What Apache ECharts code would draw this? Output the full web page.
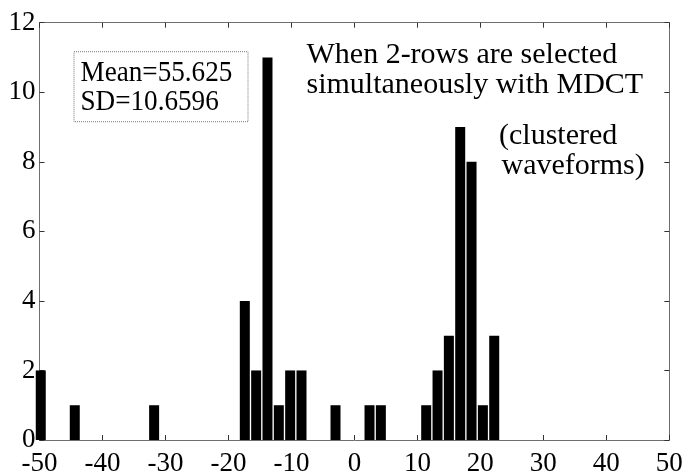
<!DOCTYPE html>
<html>
<head>
<meta charset="utf-8">
<script src="https://cdn.jsdelivr.net/npm/echarts@6/dist/echarts.min.js"></script>
<style>
html,body{margin:0;padding:0;background:#fff;}
#chart{width:685px;height:472px;}
</style>
</head>
<body>
<div id="chart"></div>
<script>
// Histogram bin centres and counts
var binCenters = [-49.8, -44.4, -31.8, -17.4, -15.6, -13.8, -12.0, -10.2, -8.4, -3.0, 2.4, 4.2, 11.4, 13.2, 15.0, 16.8, 18.6, 20.4, 22.2];
var counts     = [2, 1, 1, 4, 2, 11, 1, 2, 2, 1, 1, 1, 1, 2, 3, 9, 8, 1, 3];
var xTicks = [-50, -40, -30, -20, -10, 0, 10, 20, 30, 40, 50];
var yTicks = [0, 2, 4, 6, 8, 10, 12];
var statLines = ['Mean=55.625', 'SD=10.6596'];
var noteLines = ['When 2-rows are selected', 'simultaneously with MDCT', '(clustered', 'waveforms)'];

var FONT = 'Liberation Serif';
var frameColor = '#6e6e6e';
var data = binCenters.map(function (c, i) { return [c, counts[i]]; });

var chart = echarts.init(document.getElementById('chart'), null, {renderer: 'canvas'});
var axisCommon = {
  axisLine: {show: true, onZero: false, lineStyle: {color: frameColor, width: 1}},
  axisTick: {show: true, inside: true, length: 5, lineStyle: {color: '#333'}},
  splitLine: {show: false}
};
function txt(x, y, s, size, sx) {
  return {type: 'text', x: x, y: y, z: 11, scaleX: sx || 1,
    style: {text: s, font: size + 'px "' + FONT + '"', fill: '#000', textVerticalAlign: 'middle'}};
}
chart.setOption({
  animation: false,
  backgroundColor: '#fff',
  grid: {left: 39.5, right: 15.7, top: 22.7, bottom: 32, containLabel: false, outerBoundsMode: 'none'},
  xAxis: [
    Object.assign({
      type: 'value', position: 'bottom', min: xTicks[0], max: xTicks[xTicks.length - 1], interval: 10,
      axisLabel: {show: true, margin: 10, color: '#000', fontFamily: FONT, fontSize: 27}
    }, axisCommon),
    Object.assign({
      type: 'value', position: 'top', min: xTicks[0], max: xTicks[xTicks.length - 1], interval: 10,
      axisLabel: {show: false}
    }, axisCommon)
  ],
  yAxis: [
    Object.assign({
      type: 'value', position: 'left', min: yTicks[0], max: yTicks[yTicks.length - 1], interval: 2,
      axisLabel: {show: true, margin: 4, color: '#000', fontFamily: FONT, fontSize: 27}
    }, axisCommon),
    Object.assign({
      type: 'value', position: 'right', min: yTicks[0], max: yTicks[yTicks.length - 1], interval: 2,
      axisLabel: {show: false}
    }, axisCommon)
  ],
  series: [{
    type: 'bar',
    xAxisIndex: 0, yAxisIndex: 0,
    data: data,
    barWidth: 10,
    clip: true,
    itemStyle: {color: '#000'}
  }],
  graphic: [
    {type: 'rect', shape: {x: 74, y: 51.7, width: 174, height: 70},
     style: {fill: '#fff', stroke: '#777', lineWidth: 1, lineDash: [1, 1]}, z: 10},
    txt(80.5, 73, statLines[0], 30, 0.905),
    txt(80.5, 102, statLines[1], 30, 0.905),
    txt(306.5, 55, noteLines[0], 30),
    txt(306.5, 85.5, noteLines[1], 30),
    txt(499, 136, noteLines[2], 30),
    txt(501.5, 166.5, noteLines[3], 30)
  ]
});
</script>
</body>
</html>
